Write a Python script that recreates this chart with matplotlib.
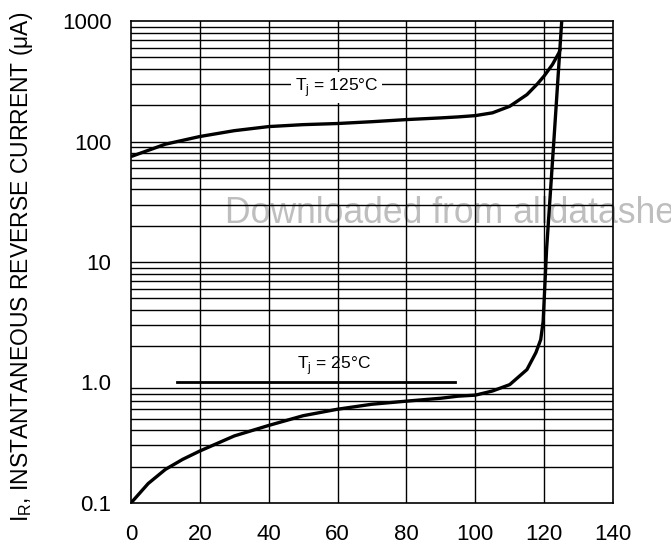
import matplotlib
matplotlib.use("Agg")
import matplotlib.pyplot as plt
import numpy as np

plt.rcParams['font.family'] = ['Liberation Sans', 'DejaVu Sans']

# Reverse voltage (V) vs instantaneous reverse current (uA)
v_125 = [0, 10, 20, 30, 40, 50, 60, 70, 80, 90, 95, 100, 105, 110, 115, 118, 120, 122.4, 124.3, 124.8]
i_125 = [75, 95, 110, 123, 133, 138, 141, 146, 152, 157, 160, 164, 173, 196, 245, 300, 350, 435, 545, 600]

v_25 = [0, 5, 10, 15, 20, 30, 40, 50, 60, 70, 80, 90, 95, 100, 105, 110, 115, 117.6, 119, 119.7, 120.7, 122.9, 125.1]
i_25 = [0.1, 0.145, 0.19, 0.23, 0.27, 0.36, 0.44, 0.53, 0.60, 0.66, 0.70, 0.74, 0.77, 0.785, 0.85, 0.96, 1.28, 1.77, 2.27, 3.2, 12.7, 110, 1000]

x_ticks = [0, 20, 40, 60, 80, 100, 120, 140]
y_ticks = [0.1, 1, 10, 100, 1000]
y_ticklabels = ['0.1', '1.0', '10', '100', '1000']

fig = plt.figure(figsize=(6.71, 5.50), dpi=100)
ax = fig.add_axes([0.1952, 0.0855, 0.7184, 0.8763])
ax.patch.set_alpha(0)
ax.set_yscale('log')
ax.set_xlim(0, 140)
ax.set_ylim(0.1, 1000)

# grid
minor_vals = []
for dec in [0.1, 1, 10, 100]:
    for k in range(2, 10):
        minor_vals.append(k * dec)
for yv in minor_vals + [10, 100]:
    ax.axhline(yv, color='black', lw=1.0, zorder=1)
ax.plot([13.5, 94], [1, 1], color='black', lw=2.0, zorder=1)
for xv in x_ticks[1:-1]:
    ax.axvline(xv, color='black', lw=1.0, zorder=1)

ax.plot(v_125, i_125, color='black', lw=2.4, zorder=3, solid_capstyle='butt')
ax.plot(v_25, i_25, color='black', lw=2.4, zorder=3, solid_capstyle='butt')

ax.text(59.7, 280, r'T$_\mathregular{j}$ = 125°C', fontsize=12.5, ha='center', va='center', zorder=4,
        bbox=dict(facecolor='white', edgecolor='none', pad=3))
ax.text(59, 1.38, r'T$_\mathregular{j}$ = 25°C', fontsize=12.5, ha='center', va='center', zorder=4)

ax.set_xticks(x_ticks)
ax.set_xticklabels([str(v) for v in x_ticks])
ax.set_yticks(y_ticks)
ax.set_yticklabels(y_ticklabels)
ax.yaxis.set_minor_locator(matplotlib.ticker.NullLocator())
ax.tick_params(axis='both', length=0, labelsize=16)
ax.tick_params(axis='y', pad=14)
ax.tick_params(axis='x', pad=15)
for s in ax.spines.values():
    s.set_linewidth(1.2)

fig.text(0.032, 0.515, r'I$_\mathregular{R}$, INSTANTANEOUS REVERSE CURRENT (μA)', rotation=90,
         fontsize=16.5, ha='center', va='center')

fig.text(0.3353, 0.595, 'Downloaded from alldatasheet.com', fontsize=25.6, color='#bebebe',
         ha='left', va='baseline', zorder=-1)

fig.savefig('out.png', dpi=100)
